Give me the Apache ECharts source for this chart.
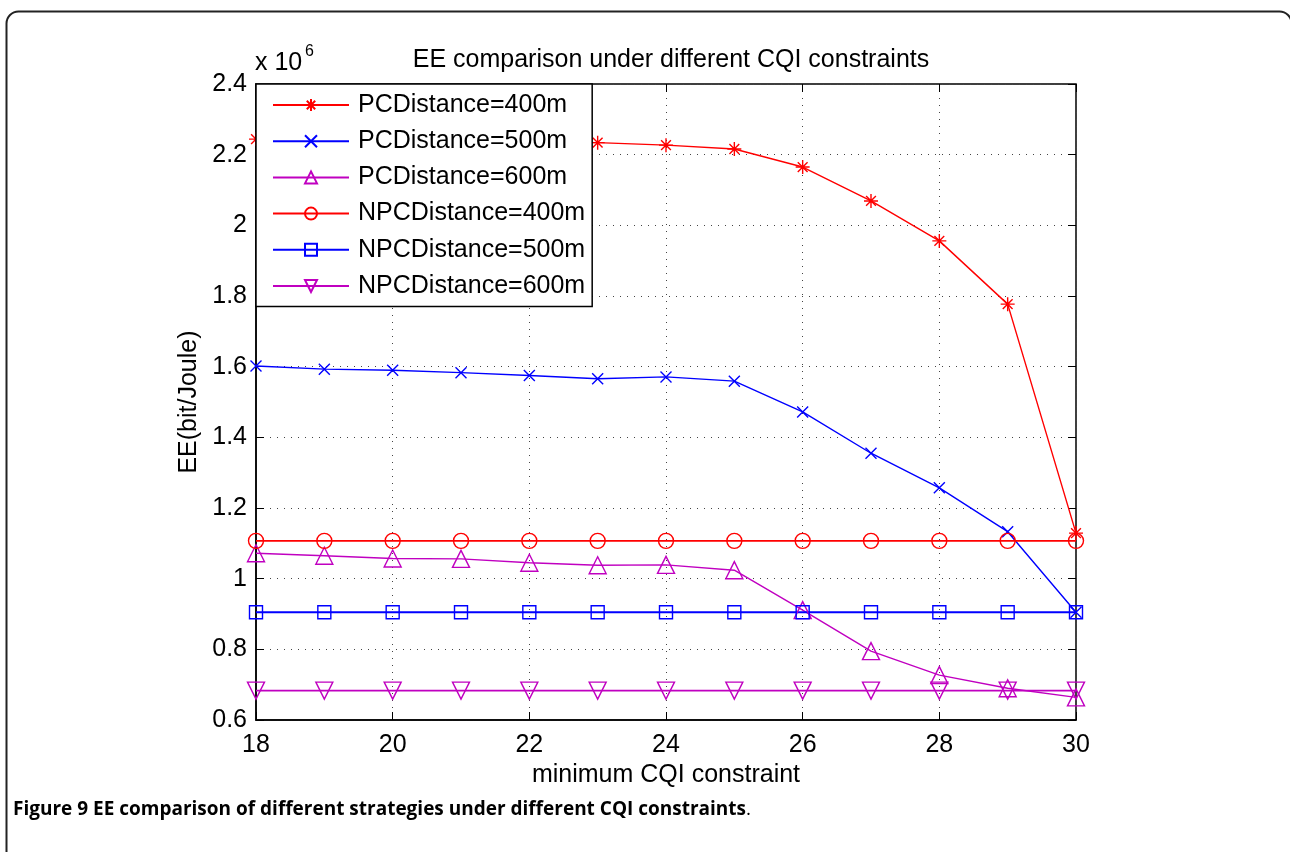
<!DOCTYPE html>
<html>
<head>
<meta charset="utf-8">
<script src="https://cdn.jsdelivr.net/npm/echarts@6/dist/echarts.min.js"></script>
<style>
  html, body { margin: 0; padding: 0; background: #fff; }
  #main { width: 1290px; height: 852px; }
</style>
</head>
<body>
<div id="main"></div>
<script>
// minimum CQI constraint (x) and EE values in units of 10^6 bit/Joule
var cqi = [18, 19, 20, 21, 22, 23, 24, 25, 26, 27, 28, 29, 30];
var pc400  = [2.244, 2.242, 2.240, 2.238, 2.236, 2.234, 2.227, 2.216, 2.165, 2.069, 1.956, 1.777, 1.129];
var pc500  = [1.602, 1.593, 1.590, 1.583, 1.575, 1.566, 1.571, 1.559, 1.472, 1.355, 1.257, 1.133, 0.905];
var pc600  = [1.072, 1.065, 1.057, 1.056, 1.045, 1.038, 1.039, 1.024, 0.911, 0.795, 0.727, 0.690, 0.664];
var npc400 = [1.107, 1.107, 1.107, 1.107, 1.107, 1.107, 1.107, 1.107, 1.107, 1.107, 1.107, 1.107, 1.107];
var npc500 = [0.905, 0.905, 0.905, 0.905, 0.905, 0.905, 0.905, 0.905, 0.905, 0.905, 0.905, 0.905, 0.905];
var npc600 = [0.683, 0.683, 0.683, 0.683, 0.683, 0.683, 0.683, 0.683, 0.683, 0.683, 0.683, 0.683, 0.683];
var names = ['PCDistance=400m', 'PCDistance=500m', 'PCDistance=600m',
             'NPCDistance=400m', 'NPCDistance=500m', 'NPCDistance=600m'];

var RED = '#ff0000', BLUE = '#0000ff', MAG = '#c000c0';
var STAR = 'path://M5,0L5,10M0,5L10,5M1.5,1.5L8.5,8.5M8.5,1.5L1.5,8.5';
var CROSS = 'path://M0,0L10,10M10,0L0,10';
var TRI_UP = 'path://M5,0L10,9L0,9Z';
var TRI_DN = 'path://M0,0L10,0L5,9Z';
var SQUARE = 'path://M0,0L10,0L10,10L0,10Z';
var CIRCLE = 'circle';

function pairs(ys) {
    return cqi.map(function (x, i) { return [x, ys[i]]; });
}

function mk(name, ys, color, symbol, size, width) {
    return {
        name: name,
        type: 'line',
        data: pairs(ys),
        symbol: symbol,
        symbolSize: size,
        showAllSymbol: true,
        lineStyle: { color: color, width: width },
        itemStyle: { color: 'none', borderColor: color, borderWidth: 1.4 },
        emphasis: { disabled: true },
        z: 2
    };
}

var FONT = '"Liberation Sans", Arial, sans-serif';

var myChart = echarts.init(document.getElementById('main'));
var option = {
    animation: false,
    title: {
        text: 'EE comparison under different CQI constraints',
        left: 666, top: 43, textAlign: 'center',
        textStyle: { fontFamily: FONT, fontSize: 25, fontWeight: 'normal', color: '#000' }
    },
    legend: {
        orient: 'vertical',
        left: 256, top: 84,
        data: names,
        itemWidth: 76, itemHeight: 15, itemGap: 11.2,
        padding: [8.5, 7, 8, 16],
        backgroundColor: '#fff',
        borderColor: '#000', borderWidth: 1.5,
        textStyle: { fontFamily: FONT, fontSize: 25, color: '#000', padding: [0, 0, 0, 4] },
        z: 10
    },
    grid: {
        left: 256, right: 214, top: 84, bottom: 132,
        show: true, borderColor: '#000', borderWidth: 1.5, backgroundColor: 'transparent'
    },
    xAxis: [{
        type: 'value', min: 18, max: 30, interval: 2,
        name: 'minimum CQI constraint', nameLocation: 'middle', nameGap: 43,
        nameTextStyle: { fontFamily: FONT, fontSize: 25, color: '#000' },
        axisLine: { lineStyle: { color: '#000', width: 1.5 } },
        axisTick: { inside: true, length: 8, lineStyle: { color: '#000' } },
        axisLabel: { fontFamily: FONT, fontSize: 25, color: '#000', margin: 13 },
        splitLine: { show: true, lineStyle: { color: '#444', type: [1, 6], width: 1 } }
    }, {
        type: 'value', min: 18, max: 30, interval: 2, position: 'top',
        axisLine: { show: false },
        axisTick: { inside: true, length: 8, lineStyle: { color: '#000' } },
        axisLabel: { show: false }, splitLine: { show: false }
    }],
    yAxis: [{
        type: 'value', min: 0.6, max: 2.4, interval: 0.2,
        name: 'EE(bit/Joule)', nameLocation: 'middle', nameGap: 54,
        nameTextStyle: { fontFamily: FONT, fontSize: 25, color: '#000' },
        axisLine: { show: true, lineStyle: { color: '#000', width: 1.5 } },
        axisTick: { show: true, inside: true, length: 8, lineStyle: { color: '#000' } },
        axisLabel: {
            fontFamily: FONT, fontSize: 25, color: '#000', margin: 9,
            formatter: function (v) { return String(Number(v.toFixed(1))); }
        },
        splitLine: { show: true, lineStyle: { color: '#444', type: [1, 6], width: 1 } }
    }, {
        type: 'value', min: 0.6, max: 2.4, interval: 0.2, position: 'right',
        axisLine: { show: false },
        axisTick: { show: true, inside: true, length: 8, lineStyle: { color: '#000' } },
        axisLabel: { show: false }, splitLine: { show: false }
    }],
    graphic: [
        {
            type: 'rect', left: 4, top: 9, silent: true,
            shape: { width: 1285, height: 860, r: 12 },
            style: { fill: 'none', stroke: '#222', lineWidth: 2 }
        },
        {
            type: 'text', left: 255, top: 51, silent: true,
            style: { text: 'x 10', font: '25px ' + FONT, fill: '#000' }
        },
        {
            type: 'text', left: 305, top: 44, silent: true,
            style: { text: '6', font: '16px ' + FONT, fill: '#000' }
        },
        {
            type: 'text', left: 13, top: 800, silent: true,
            style: {
                text: '{b|Figure 9 EE comparison of different strategies under different CQI constraints}{n|.}',
                rich: {
                    b: { fontFamily: '"Open Sans", sans-serif', fontSize: 19, fontWeight: 'bold', fill: '#000' },
                    n: { fontFamily: '"Open Sans", sans-serif', fontSize: 19, fill: '#000' }
                }
            }
        }
    ],
    series: [
        mk(names[0], pc400, RED, STAR, 14, 1.4),
        mk(names[1], pc500, BLUE, CROSS, 11, 1.4),
        mk(names[2], pc600, MAG, TRI_UP, 17, 1.4),
        mk(names[3], npc400, RED, CIRCLE, 15, 1.8),
        mk(names[4], npc500, BLUE, SQUARE, 13, 1.8),
        mk(names[5], npc600, MAG, TRI_DN, 17, 1.8)
    ]
};
myChart.setOption(option);

window.addEventListener('resize', function () {
    myChart.resize();
});
</script>
</body>
</html>
